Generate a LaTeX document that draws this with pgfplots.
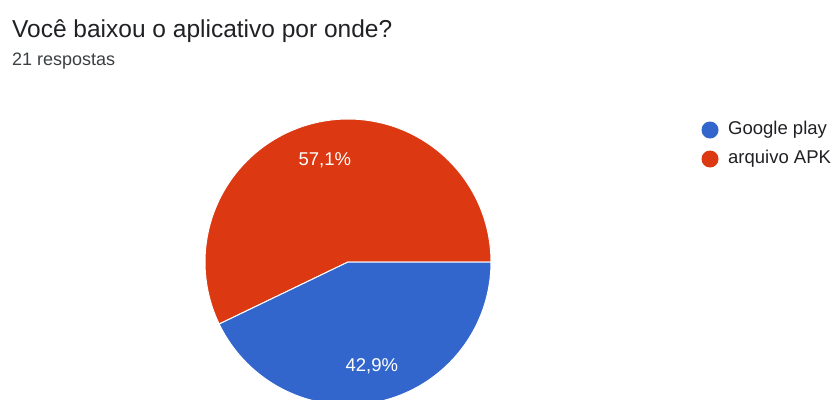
\documentclass[border=0pt]{standalone}
\usepackage{pgfplots}
\pgfplotsset{compat=1.18}
\usepackage{fontspec}
\setmainfont{Liberation Sans}
\definecolor{gblue}{HTML}{3366CC}
\definecolor{gred}{HTML}{DC3912}
\definecolor{txt}{HTML}{202124}
\definecolor{sub}{HTML}{3C4043}
% data: number of answers
\def\vGoogle{9}
\def\vAPK{12}
\pgfmathsetmacro{\tot}{\vGoogle+\vAPK}
\pgfmathsetmacro{\aG}{360*\vGoogle/\tot}
\pgfmathsetmacro{\aA}{360*\vAPK/\tot}
\pgfmathsetmacro{\mG}{-\aG/2}
\pgfmathsetmacro{\mA}{\aA/2}
\begin{document}
\begin{tikzpicture}[x=1pt,y=1pt]
\useasboundingbox (0,0) rectangle (835,-399);
\clip (0,0) rectangle (835,-399);
\fill[white] (0,0) rectangle (835,-399);
\node[anchor=base west, inner sep=0, text=txt, font=\fontsize{24.5}{28}\selectfont] at (12,-37) {Você baixou o aplicativo por onde?};
\node[anchor=base west, inner sep=0, text=sub, font=\fontsize{18}{21}\selectfont] at (12,-65) {21 respostas};
\begin{axis}[at={(348pt,-262pt)}, anchor=center, scale only axis,
  width=286pt, height=286pt, xmin=-1, xmax=1, ymin=-1, ymax=1,
  hide axis, clip=false]
  \addplot[fill=gred, draw=white, line width=1pt, domain=0:\aA, samples=120]
    ({cos(x)},{sin(x)}) -- (axis cs:0,0) -- cycle;
  \addplot[fill=gblue, draw=white, line width=1pt, domain=-\aG:0, samples=120]
    ({cos(x)},{sin(x)}) -- (axis cs:0,0) -- cycle;
  \node[text=white, font=\fontsize{18.5}{21}\selectfont] at (axis cs:{0.73*cos(\mA)},{0.73*sin(\mA)}) {57,1\%};
  \node[text=white, font=\fontsize{18.5}{21}\selectfont] at (axis cs:{0.75*cos(\mG)},{0.75*sin(\mG)}) {42,9\%};
\end{axis}
\fill[gblue] (710,-130) circle (8.5);
\fill[gred] (710,-159) circle (8.5);
\node[anchor=west, inner sep=0, text=txt, font=\fontsize{18.5}{21}\selectfont] at (728,-130) {Google play};
\node[anchor=west, inner sep=0, text=txt, font=\fontsize{18.5}{21}\selectfont] at (728,-159) {arquivo APK};
\end{tikzpicture}
\end{document}
